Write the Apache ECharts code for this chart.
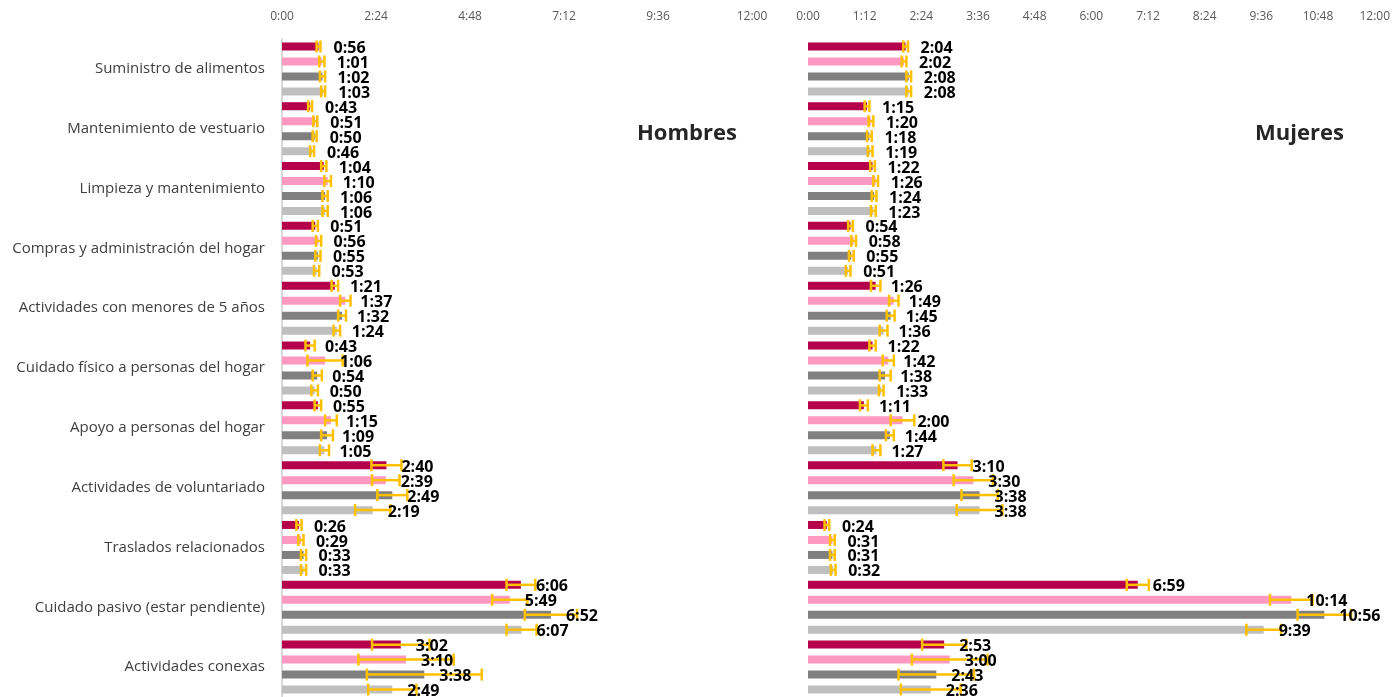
<!DOCTYPE html>
<html lang="es">
<head>
<meta charset="UTF-8">
<title>Tiempo dedicado - Hombres y Mujeres</title>
<script src="https://cdn.jsdelivr.net/npm/echarts@6/dist/echarts.min.js"></script>
<style>
  html, body { margin: 0; padding: 0; background: #fff; }
  #chart { width: 1393px; height: 697px; }
</style>
</head>
<body>
<div id="chart"></div>
<script type="text/javascript">
    // categorias (eje vertical)
    var categorias = [
        'Suministro de alimentos',
        'Mantenimiento de vestuario',
        'Limpieza y mantenimiento',
        'Compras y administración del hogar',
        'Actividades con menores de 5 años',
        'Cuidado físico a personas del hogar',
        'Apoyo a personas del hogar',
        'Actividades de voluntariado',
        'Traslados relacionados',
        'Cuidado pasivo (estar pendiente)',
        'Actividades conexas'
    ];

    // valores en minutos
    var hombresA = [56, 43, 64, 51, 81, 43, 55, 160, 26, 366, 182];
    var hombresB = [61, 51, 70, 56, 97, 66, 75, 159, 29, 349, 190];
    var hombresC = [62, 50, 66, 55, 92, 54, 69, 169, 33, 412, 218];
    var hombresD = [63, 46, 66, 53, 84, 50, 65, 139, 33, 367, 169];

    var mujeresA = [124, 75, 82, 54, 86, 82, 71, 190, 24, 419, 173];
    var mujeresB = [122, 80, 86, 58, 109, 102, 120, 210, 31, 614, 180];
    var mujeresC = [128, 78, 84, 55, 105, 98, 104, 218, 31, 656, 163];
    var mujeresD = [128, 79, 83, 51, 96, 93, 87, 218, 32, 579, 156];

    // margen de error (+/- minutos)
    var errHombresA = [3, 3, 4, 4, 5, 7, 5, 23, 4, 22, 44];
    var errHombresB = [4, 3, 5, 4, 8, 27, 9, 21, 4, 27, 73];
    var errHombresC = [4, 3, 4, 4, 6, 7, 9, 23, 4, 40, 88];
    var errHombresD = [3, 3, 4, 4, 5, 5, 7, 27, 4, 23, 37];

    var errMujeresA = [3, 3, 3, 3, 6, 4, 5, 18, 3, 14, 28];
    var errMujeresB = [3, 3, 3, 3, 6, 7, 15, 25, 3, 27, 48];
    var errMujeresC = [3, 3, 3, 3, 5, 7, 5, 23, 3, 34, 48];
    var errMujeresD = [3, 3, 3, 3, 5, 3, 5, 29, 3, 22, 38];

    var colores = ['#B5004B', '#FF99C2', '#808080', '#BFBFBF'];
    var fuente = '"Open Sans", "Noto Sans", sans-serif';

    function hm(m) {
        var h = Math.floor(m / 60);
        var mm = Math.round(m % 60);
        return h + ':' + (mm < 10 ? '0' : '') + mm;
    }

    function errorItem(k) {
        return function (params, api) {
            var v = api.value(0);
            var cat = api.value(1);
            var e = api.value(2);
            var band = api.size([0, 1])[1];
            var c = api.coord([v, cat]);
            var y = c[1] + (k - 1.5) * band * 0.25;
            var lo = api.coord([v - e, cat])[0];
            var hi = api.coord([v + e, cat])[0];
            var st = { stroke: '#FFC000', lineWidth: 2.5 };
            return {
                type: 'group',
                children: [
                    { type: 'line', shape: { x1: lo, y1: y, x2: hi, y2: y }, style: st },
                    { type: 'line', shape: { x1: lo, y1: y - 6, x2: lo, y2: y + 6 }, style: st },
                    { type: 'line', shape: { x1: hi, y1: y - 6, x2: hi, y2: y + 6 }, style: st },
                    {
                        type: 'text', x: c[0] + 15, y: y + 2,
                        style: {
                            text: hm(v), fill: '#000',
                            font: 'bold 16px ' + fuente,
                            align: 'left', verticalAlign: 'middle'
                        }
                    }
                ]
            };
        };
    }

    function barras(datos, k, g) {
        return {
            type: 'bar',
            name: 'serie' + (k + 1),
            xAxisIndex: g, yAxisIndex: g,
            barWidth: 8,
            barGap: '87.5%',
            itemStyle: { color: colores[k] },
            data: datos,
            z: 2
        };
    }

    function errores(datos, err, k, g) {
        return {
            type: 'custom',
            xAxisIndex: g, yAxisIndex: g,
            renderItem: errorItem(k),
            encode: { x: 0, y: 1 },
            data: datos.map(function (v, i) { return [v, i, err[i]]; }),
            z: 3
        };
    }

    function ejeX(g, intervalo) {
        return {
            gridIndex: g,
            type: 'value',
            position: 'top',
            min: 0, max: 720, interval: intervalo,
            axisLine: { show: false },
            axisTick: { show: false },
            splitLine: { show: false },
            axisLabel: { formatter: hm, fontSize: 12, color: '#595959', fontFamily: fuente, margin: 16 }
        };
    }

    var chartDom = document.getElementById('chart');
    var myChart = echarts.init(chartDom);

    var option = {
        animation: false,
        title: [
            { text: 'Hombres', left: 637, top: 123, padding: 0,
              textStyle: { fontSize: 22, fontWeight: 'bold', color: '#262626', fontFamily: fuente } },
            { text: 'Mujeres', left: 1255, top: 123, padding: 0,
              textStyle: { fontSize: 22, fontWeight: 'bold', color: '#262626', fontFamily: fuente } }
        ],
        grid: [
            { left: 282, width: 470, top: 39, height: 660 },
            { left: 808, width: 570, top: 39, height: 660 }
        ],
        xAxis: [ejeX(0, 144), ejeX(1, 72)],
        yAxis: [
            {
                gridIndex: 0, type: 'category', data: categorias, inverse: true,
                axisLine: { show: true, lineStyle: { color: '#d9d9d9', width: 2 } },
                axisTick: { show: false },
                axisLabel: { fontSize: 15, color: '#404040', fontFamily: fuente, margin: 17 }
            },
            {
                gridIndex: 1, type: 'category', data: categorias, inverse: true,
                axisLine: { show: false },
                axisTick: { show: false },
                axisLabel: { show: false }
            }
        ],
        series: [
            barras(hombresA, 0, 0), barras(hombresB, 1, 0), barras(hombresC, 2, 0), barras(hombresD, 3, 0),
            barras(mujeresA, 0, 1), barras(mujeresB, 1, 1), barras(mujeresC, 2, 1), barras(mujeresD, 3, 1),
            errores(hombresA, errHombresA, 0, 0), errores(hombresB, errHombresB, 1, 0),
            errores(hombresC, errHombresC, 2, 0), errores(hombresD, errHombresD, 3, 0),
            errores(mujeresA, errMujeresA, 0, 1), errores(mujeresB, errMujeresB, 1, 1),
            errores(mujeresC, errMujeresC, 2, 1), errores(mujeresD, errMujeresD, 3, 1)
        ]
    };

    option && myChart.setOption(option);
</script>
</body>
</html>
